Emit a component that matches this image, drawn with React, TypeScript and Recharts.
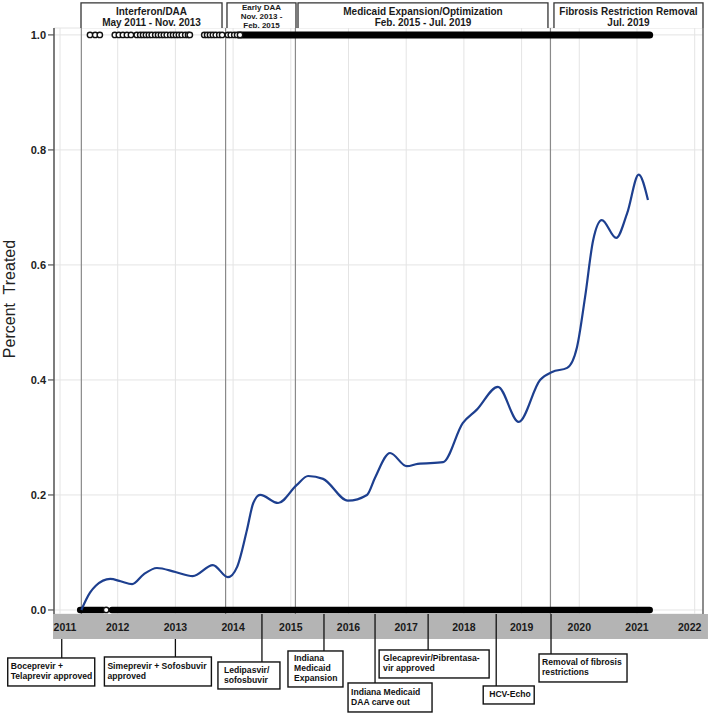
import React from "react";
import {
  CartesianGrid,
  ComposedChart,
  Line,
  ReferenceArea,
  ReferenceDot,
  ReferenceLine,
  Scatter,
  XAxis,
  YAxis,
} from "recharts";

const FONT = '"Liberation Sans", Arial, Helvetica, sans-serif';

const yearTicks = [2011, 2012, 2013, 2014, 2015, 2016, 2017, 2018, 2019, 2020, 2021, 2022];
const percentTicks = [0, 0.2, 0.4, 0.6, 0.8, 1.0];

// fitted probability of treatment
const curveYears = [
  2011.37, 2011.52, 2011.62, 2011.87, 2012.05, 2012.25, 2012.45, 2012.68, 2013.0, 2013.3,
  2013.65, 2013.91, 2014.07, 2014.24, 2014.35, 2014.47, 2014.78, 2015.1, 2015.3, 2015.56,
  2015.99, 2016.32, 2016.46, 2016.72, 2017.01, 2017.2, 2017.64, 2017.98, 2018.22, 2018.59,
  2018.95, 2019.32, 2019.53, 2019.79, 2019.96, 2020.1, 2020.24, 2020.39, 2020.64, 2020.83,
  2021.03, 2021.19,
];
const curveValues = [
  0.0, 0.03, 0.042, 0.054, 0.05, 0.045, 0.062, 0.073, 0.066, 0.059,
  0.078, 0.057, 0.075, 0.139, 0.186, 0.2, 0.186, 0.217, 0.233, 0.228,
  0.19, 0.2, 0.23, 0.273, 0.25, 0.254, 0.257, 0.325, 0.348, 0.388,
  0.327, 0.4, 0.414, 0.421, 0.457, 0.544, 0.643, 0.678, 0.647, 0.69,
  0.757, 0.713,
];

// individual observations (rug) at 1 = treated, 0 = not treated
const treatedSparseYears = [
  2011.52, 2011.61, 2011.69, 2011.95, 2012.02, 2012.09, 2012.16, 2012.23, 2012.33, 2012.39,
  2012.44, 2012.49, 2012.54, 2012.59, 2012.65, 2012.7, 2012.75, 2012.8, 2012.85, 2012.91,
  2012.96, 2013.01, 2013.06, 2013.11, 2013.17, 2013.22, 2013.25, 2013.5, 2013.55, 2013.6,
  2013.65, 2013.7, 2013.76, 2013.81, 2013.91, 2013.96, 2014.02, 2014.07, 2014.12,
];
const treatedDenseRange = [2014.1, 2021.22];
const untreatedSparseYears = [2011.8];
const untreatedEarlyRange = [2011.35, 2011.75];
const untreatedDenseRange = [2011.9, 2021.22];

const periodFrom = [2011.364, 2013.894, 2015.125, 2019.561];
const periodTo = [2013.808, 2015.09, 2019.457, 2022.144];
const periodLabels = [
  ["Interferon/DAA", "May 2011 - Nov. 2013"],
  ["Early DAA", "Nov. 2013 -", "Feb. 2015"],
  ["Medicaid Expansion/Optimization", "Feb. 2015 - Jul. 2019"],
  ["Fibrosis Restriction Removal", "Jul. 2019"],
];
const periodBoundaries = [2011.37, 2013.87, 2015.08, 2019.5];

const eventYears = [2011.03, 2013.0, 2014.5, 2015.575, 2016.46, 2017.38, 2018.56, 2019.51];
const eventLabels = [
  ["Boceprevir +", "Telaprevir approved"],
  ["Simeprevir + Sofosbuvir", "approved"],
  ["Ledipasvir/", "sofosbuvir"],
  ["Indiana", "Medicaid", "Expansion"],
  ["Indiana Medicaid", "DAA carve out"],
  ["Glecaprevir/Pibrentasa-", "vir approved"],
  ["HCV-Echo"],
  ["Removal of fibrosis", "restrictions"],
];
// box layout in px, relative to the connector line and the zero line
const eventBoxes = [
  { dx: -54, w: 87, top: 48, h: 28, pad: 3, fromBar: true },
  { dx: -71, w: 107, top: 47, h: 29, pad: 3, fromBar: true },
  { dx: -44, w: 62, top: 52, h: 27, pad: 6, fromBar: false },
  { dx: -36, w: 55, top: 41, h: 36, pad: 6, fromBar: false },
  { dx: -27, w: 84, top: 73, h: 29, pad: 3, fromBar: false },
  { dx: -49, w: 110, top: 40, h: 28, pad: 4, fromBar: false },
  { dx: -13, w: 51, top: 76, h: 18, pad: 6, fromBar: false },
  { dx: -12, w: 88, top: 44, h: 28, pad: 3, fromBar: false },
];

const X_DOMAIN = [2010.896, 2022.144];
const Y_DOMAIN = [-0.007, 1.012];

const curveData = curveYears.map((x, i) => ({ x, y: curveValues[i] }));
const treatedSparse = treatedSparseYears.map((x) => ({ x, y: 1 }));
const untreatedSparse = untreatedSparseYears.map((x) => ({ x, y: 0 }));
const treatedDense = treatedDenseRange.map((x) => ({ x, y: 1 }));
const untreatedEarly = untreatedEarlyRange.map((x) => ({ x, y: 0 }));
const untreatedDense = untreatedDenseRange.map((x) => ({ x, y: 0 }));

function OpenCircle(props: any) {
  const { cx, cy } = props;
  if (cx == null || cy == null) return null;
  return <circle cx={cx} cy={cy} r={2.7} fill="#fff" stroke="#111" strokeWidth={1.4} />;
}

function YearTick(props: any) {
  const { x, y, payload, index } = props;
  let shift = 0;
  if (index === 0) shift = 5;
  if (payload.value === 2022) shift = -5;
  return (
    <text
      x={x + shift}
      y={y}
      dy={17}
      textAnchor="middle"
      fontSize={10.5}
      fontWeight="bold"
      fill="#1a1a1a"
    >
      {payload.value}
    </text>
  );
}

function periodShape(i: number) {
  return (props: any) => {
    const { x, y, width, height } = props;
    const lines = periodLabels[i];
    const small = lines.length > 2;
    const cx = x + width / 2;
    return (
      <g>
        <rect x={x} y={y} width={width} height={height} fill="#fff" />
        <path
          d={`M${x},${y + height} L${x},${y} L${x + width},${y} L${x + width},${y + height}`}
          fill="none"
          stroke="#333"
          strokeWidth={1.3}
        />
        {lines.map((t, j) => (
          <text
            key={j}
            x={cx}
            y={small ? y + 7.5 + j * 9 : y + 12.5 + j * 11}
            textAnchor="middle"
            fontSize={small ? 8 : 10}
            fontWeight="bold"
            fill="#1a1a1a"
          >
            {t}
          </text>
        ))}
      </g>
    );
  };
}

function eventShape(i: number) {
  return (props: any) => {
    const { cx, cy } = props;
    if (cx == null || cy == null) return <g />;
    const b = eventBoxes[i];
    const lines = eventLabels[i];
    const boxX = cx + b.dx;
    const boxY = cy + b.top;
    const startY = b.fromBar ? cy + 29 : cy + 4;
    const first = boxY + (b.h - lines.length * 10) / 2 + 7.5;
    return (
      <g>
        <line x1={cx} y1={startY} x2={cx} y2={boxY} stroke="#111" strokeWidth={1.3} />
        <rect x={boxX} y={boxY} width={b.w} height={b.h} fill="#fff" stroke="#111" strokeWidth={1.4} />
        {lines.map((t, j) => (
          <text
            key={j}
            x={boxX + b.pad}
            y={first + j * 10}
            fontSize={8.6}
            fontWeight="bold"
            fill="#111"
          >
            {t}
          </text>
        ))}
      </g>
    );
  };
}

function YLabel() {
  return (
    <text
      x={15}
      y={299}
      transform="rotate(-90 15 299)"
      textAnchor="middle"
      fontSize={16}
      fill="#222"
      style={{ whiteSpace: "pre" }}
    >
      {"Percent  Treated"}
    </text>
  );
}

export default function App() {
  return (
    <div style={{ position: "absolute", left: 0, top: 0, width: 709, height: 715, fontFamily: FONT, background: "#fff" }}>
      <ComposedChart width={709} height={715} margin={{ top: 28, right: 6, bottom: 76, left: 0 }}>
        <CartesianGrid stroke="#e4e4e4" strokeWidth={1} />
        <ReferenceArea
          x1={2010.879}
          x2={2022.23}
          y1={-0.0504}
          y2={-0.007}
          ifOverflow="visible"
          fill="#b4b4b4"
          fillOpacity={1}
          stroke="none"
        />
        <XAxis
          type="number"
          dataKey="x"
          domain={X_DOMAIN}
          ticks={yearTicks}
          allowDataOverflow
          axisLine={false}
          tickLine={false}
          tickSize={0}
          tickMargin={0}
          height={25}
          interval={0}
          tick={(p: any) => <YearTick {...p} />}
        />
        <YAxis
          type="number"
          dataKey="y"
          domain={Y_DOMAIN}
          ticks={percentTicks}
          allowDataOverflow
          width={54}
          tickSize={6}
          tickFormatter={(v) => Number(v).toFixed(1)}
          tick={{ fill: "#222", fontSize: 11, fontWeight: "bold" }}
          tickLine={{ stroke: "#555", strokeWidth: 1.2 }}
          axisLine={{ stroke: "#555", strokeWidth: 1.5 }}
          label={{ content: () => <YLabel /> }}
        />
        {periodBoundaries.map((x) => (
          <ReferenceLine key={x} x={x} stroke="#8a8a8a" strokeWidth={1.2} ifOverflow="visible" />
        ))}
        <ReferenceLine x={X_DOMAIN[1]} stroke="#555" strokeWidth={1.3} ifOverflow="visible" />
        {periodFrom.map((from, i) => (
          <ReferenceArea
            key={i}
            x1={from}
            x2={periodTo[i]}
            y1={1.012}
            y2={1.0557}
            ifOverflow="visible"
            shape={periodShape(i)}
          />
        ))}
        <Line
          data={treatedDense}
          dataKey="y"
          type="linear"
          stroke="#000"
          strokeWidth={7}
          strokeLinecap="round"
          dot={false}
          activeDot={false}
          isAnimationActive={false}
        />
        <Line
          data={untreatedEarly}
          dataKey="y"
          type="linear"
          stroke="#000"
          strokeWidth={6.5}
          strokeLinecap="round"
          dot={false}
          activeDot={false}
          isAnimationActive={false}
        />
        <Line
          data={untreatedDense}
          dataKey="y"
          type="linear"
          stroke="#000"
          strokeWidth={6.5}
          strokeLinecap="round"
          dot={false}
          activeDot={false}
          isAnimationActive={false}
        />
        <Scatter data={treatedSparse} dataKey="y" shape={<OpenCircle />} isAnimationActive={false} />
        <Scatter data={untreatedSparse} dataKey="y" shape={<OpenCircle />} isAnimationActive={false} />
        <Line
          data={curveData}
          dataKey="y"
          type="monotone"
          stroke="#1d3f8f"
          strokeWidth={2.2}
          dot={false}
          activeDot={false}
          isAnimationActive={false}
        />
        {eventYears.map((x, i) => (
          <ReferenceDot key={i} x={x} y={0} ifOverflow="visible" shape={eventShape(i)} />
        ))}
      </ComposedChart>
    </div>
  );
}
